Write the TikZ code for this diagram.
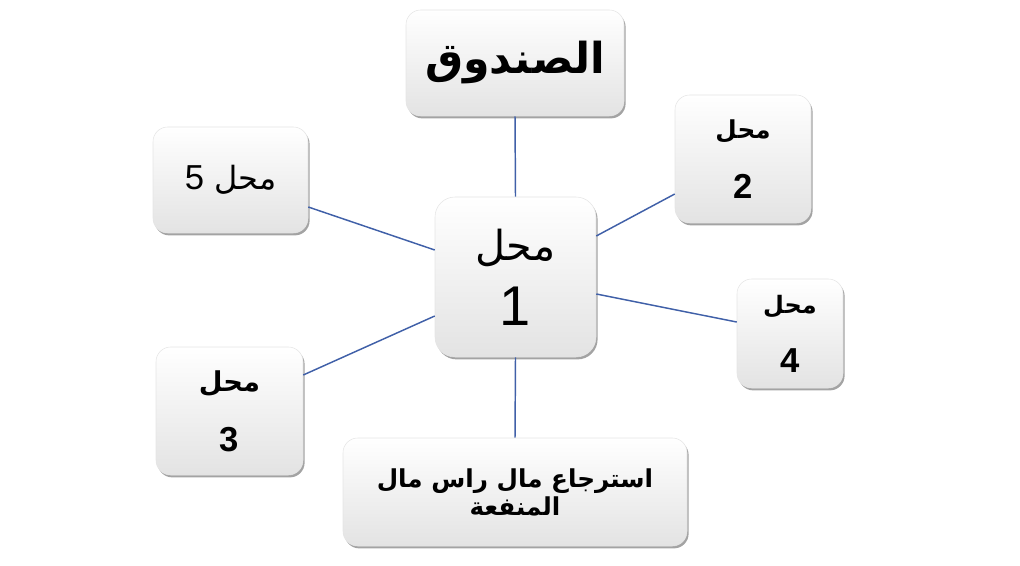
\documentclass[tikz,border=0pt]{standalone}
\usepackage{fontspec}
\usetikzlibrary{shadows}
\TeXXeTstate=1
\newfontfamily\arabicfont[Script=Arabic]{DejaVu Sans}
\newfontfamily\latinfont{Liberation Sans}
\definecolor{linkblue}{RGB}{64,96,168}

\begin{document}
\begin{tikzpicture}[x=0.75pt,y=-0.75pt,
		box/.style={rounded corners=11pt,top color=white,bottom color=black!11,draw=black!10,
			drop shadow={shadow xshift=1.2pt,shadow yshift=-1.8pt,opacity=.6,fill=black!60},
			align=center,inner sep=0pt},
		link/.style={draw=linkblue,line width=1.1pt}]
		\useasboundingbox (0,0) rectangle (1020,566);
		\node[box,minimum width=163.5pt,minimum height=79.5pt] (sanduq) at (515,63)
			{\arabicfont\bfseries\fontsize{32}{38}\selectfont\beginR الصندوق\endR};
		\node[box,rounded corners=15pt,minimum width=120.75pt,minimum height=120pt] (mahal1) at (515.5,277)
			{{\arabicfont\fontsize{31}{31}\selectfont\beginR محل\endR}\\[14pt]{\latinfont\fontsize{42}{42}\selectfont 1}};
		\node[box,minimum width=102pt,minimum height=96pt] (mahal2) at (743,159)
			{{\arabicfont\bfseries\fontsize{18.5}{18}\selectfont\beginR محل\endR}\\[22pt]{\latinfont\bfseries\fontsize{26}{26}\selectfont 2}};
		\node[box,minimum width=110.25pt,minimum height=96pt] (mahal3) at (229.5,411)
			{{\arabicfont\bfseries\fontsize{20.5}{20}\selectfont\beginR محل\endR}\\[22pt]{\latinfont\bfseries\fontsize{26}{26}\selectfont 3}};
		\node[box,minimum width=79.5pt,minimum height=81.75pt] (mahal4) at (790,333.5)
			{{\arabicfont\bfseries\fontsize{18}{18}\selectfont\beginR محل\endR}\\[22pt]{\latinfont\bfseries\fontsize{26}{26}\selectfont 4}};
		\node[box,minimum width=116.25pt,minimum height=79.5pt] (mahal5) at (230.5,180)
			{\arabicfont\fontsize{24}{24}\selectfont\beginR محل {\latinfont\fontsize{26}{26}\selectfont 5}\endR};
		\node[box,minimum width=258pt,minimum height=81pt,font=\arabicfont\bfseries\fontsize{18.5}{21}\selectfont] (istirja) at (515,492)
			{\beginR استرجاع مال راس مال\endR\\\beginR المنفعة\endR};
		% connectors
		\draw[link] (sanduq.south) -- (mahal1.north);
		\draw[link] (mahal1.south) -- (istirja.north);
		\draw[link] ([yshift=30.75pt]mahal1.east) -- ([yshift=-26.25pt]mahal2.west);
		\draw[link] ([yshift=-12.75pt]mahal1.east) -- ([yshift=8.6pt]mahal4.west);
		\draw[link] ([yshift=-20.25pt]mahal5.east) -- ([yshift=20.25pt]mahal1.west);
		\draw[link] ([yshift=27pt]mahal3.east) -- ([yshift=-29.25pt]mahal1.west);
\end{tikzpicture}
\end{document}
